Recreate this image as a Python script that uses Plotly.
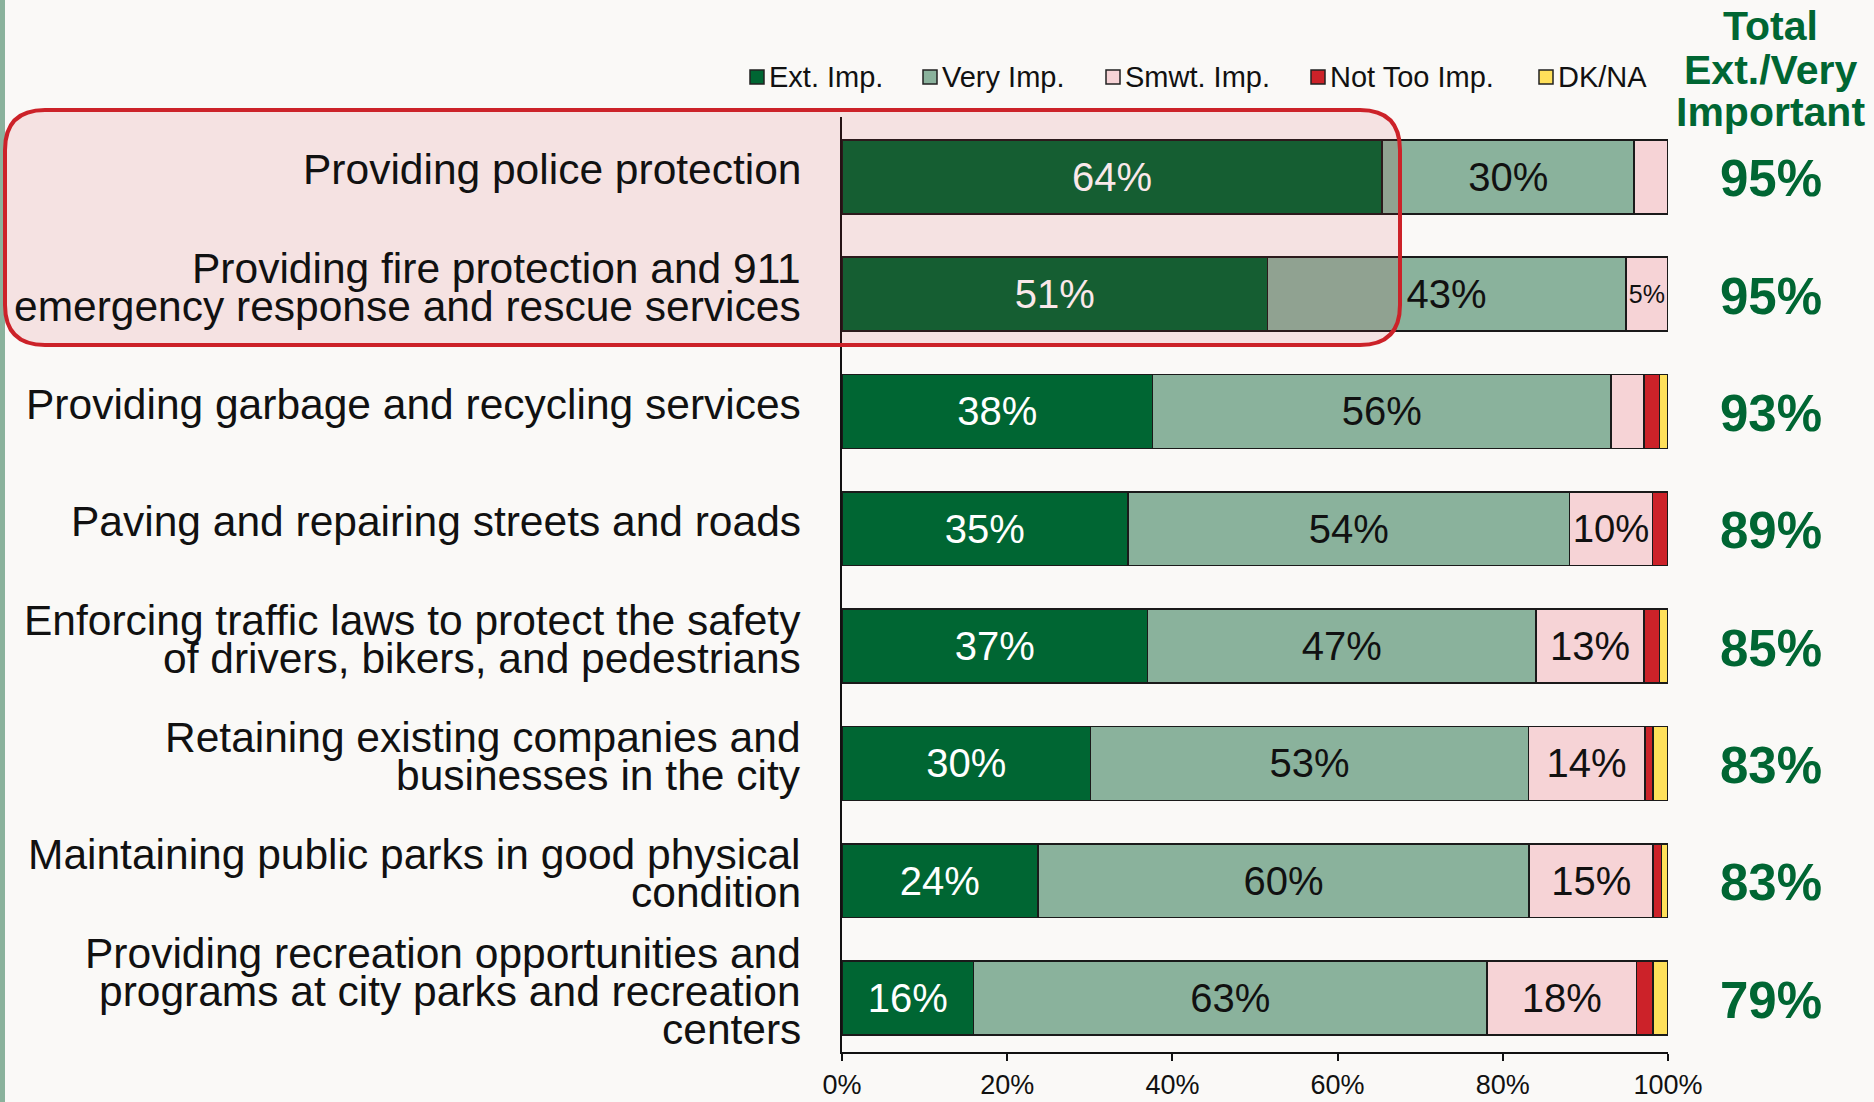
import plotly.graph_objects as go

categories = [
    "Providing police protection",
    "Providing fire protection and 911<br>emergency response and rescue services",
    "Providing garbage and recycling services",
    "Paving and repairing streets and roads",
    "Enforcing traffic laws to protect the safety<br>of drivers, bikers, and pedestrians",
    "Retaining existing companies and<br>businesses in the city",
    "Maintaining public parks in good physical<br>condition",
    "Providing recreation opportunities and<br>programs at city parks and recreation<br>centers",
]
ext_imp = [65.4, 51.5, 37.6, 34.6, 37.0, 30.1, 23.7, 15.9]
very_imp = [30.5, 43.4, 55.5, 53.5, 47.0, 53.0, 59.5, 62.2]
smwt_imp = [4.1, 5.1, 4.0, 10.0, 13.1, 14.1, 15.0, 18.1]
not_too_imp = [0, 0, 1.9, 1.9, 1.9, 1.0, 1.0, 2.0]
dk_na = [0, 0, 1.0, 0, 1.0, 1.8, 0.8, 1.8]

ext_lbl = ["64%", "51%", "38%", "35%", "37%", "30%", "24%", "16%"]
very_lbl = ["30%", "43%", "56%", "54%", "47%", "53%", "60%", "63%"]
smwt_lbl = ["", "5%", "", "10%", "13%", "14%", "15%", "18%"]
totals = ["95%", "95%", "93%", "89%", "85%", "83%", "83%", "79%"]

series_names = ["Ext. Imp.", "Very Imp.", "Smwt. Imp.", "Not Too Imp.", "DK/NA"]
colors = ["#006633", "#8AB29C", "#F6D3D6", "#CC2229", "#FFE05A"]

W, H = 1874, 1102
L, R, T, B = 842, 1668, 117, 1052
PW, PH = R - L, B - T


def px(x):
    return (x - L) / PW


def py(y):
    return (B - y) / PH


FONT = "Liberation Sans, Arial, sans-serif"
NARROW = "Liberation Sans Narrow, Arial Narrow, Liberation Sans, sans-serif"

fig = go.Figure()
vals = [ext_imp, very_imp, smwt_imp, not_too_imp, dk_na]
lbls = [ext_lbl, very_lbl, smwt_lbl, [""] * 8, [""] * 8]
txtcol = ["white", "#111111", "#111111", "#111111", "#111111"]
for name, v, lb, c, tc in zip(series_names, vals, lbls, colors, txtcol):
    fig.add_trace(go.Bar(
        y=categories, x=v, name=name, orientation="h",
        marker=dict(color=c, line=dict(color="#1a1a1a", width=1.5)),
        text=lb, textposition="inside", insidetextanchor="middle", textangle=0,
        textfont=dict(family=FONT, size=40, color=tc),
        showlegend=False, hoverinfo="skip",
    ))

annotations = []
# category labels (multi-line with tight spacing)
for cat in categories:
    lines = cat.split("<br>")
    n = len(lines)
    for j, ln in enumerate(lines):
        annotations.append(dict(
            xref="paper", yref="y", x=px(803), y=cat, text=ln,
            xanchor="right", yanchor="middle", showarrow=False,
            yshift=((n - 1) / 2 - j) * 38 + 7,
            font=dict(family=FONT, size=42.5, color="#111111"),
        ))
# totals
for cat, t in zip(categories, totals):
    annotations.append(dict(
        xref="paper", yref="y", x=px(1771), y=cat, text="<b>%s</b>" % t,
        xanchor="center", yanchor="middle", showarrow=False, yshift=-2,
        font=dict(family=FONT, size=51, color="#006633"),
    ))
# header
for txt, yy in zip(["Total", "Ext./Very", "Important"], [26, 70, 112]):
    annotations.append(dict(
        xref="paper", yref="paper", x=px(1770), y=py(yy), text="<b>%s</b>" % txt,
        xanchor="center", yanchor="middle", showarrow=False,
        font=dict(family=FONT, size=41, color="#006633"),
    ))

shapes = []
# manual legend
leg_sq = [757, 930, 1113, 1318, 1546]
leg_y = 77
for name, c, sx in zip(series_names, colors, leg_sq):
    shapes.append(dict(
        type="rect", xref="paper", yref="paper",
        x0=px(sx - 7), x1=px(sx + 7), y0=py(leg_y + 7), y1=py(leg_y - 7),
        fillcolor=c, line=dict(color="#222222", width=1.5),
    ))
    annotations.append(dict(
        xref="paper", yref="paper", x=px(sx + 10), y=py(leg_y), text=name,
        xanchor="left", yanchor="middle", showarrow=False,
        font=dict(family=NARROW, size=29, color="#111111"),
    ))

# highlight rounded box
bl, br, bt, bb, r = 5, 1400, 110, 345, 40


def P(x, y):
    return "%f,%f" % (px(x), py(y))


path = ("M %s L %s Q %s %s L %s Q %s %s L %s Q %s %s L %s Q %s %s Z" % (
    P(bl + r, bt), P(br - r, bt), P(br, bt), P(br, bt + r), P(br, bb - r),
    P(br, bb), P(br - r, bb), P(bl + r, bb), P(bl, bb), P(bl, bb - r),
    P(bl, bt + r), P(bl, bt), P(bl + r, bt)))
shapes.append(dict(
    type="path", xref="paper", yref="paper", path=path,
    fillcolor="rgba(210,30,45,0.10)", line=dict(color="#CC2229", width=4),
    layer="above",
))
# left strip
shapes.append(dict(
    type="rect", xref="paper", yref="paper",
    x0=px(0), x1=px(5), y0=py(H), y1=py(0),
    fillcolor="#8AB29C", line=dict(width=0), layer="below",
))

fig.update_layout(
    barmode="stack", bargap=0.37,
    width=W, height=H, autosize=False,
    margin=dict(l=L, r=W - R, t=T, b=H - B, pad=0, autoexpand=False),
    paper_bgcolor="#FAF9F7", plot_bgcolor="#FAF9F7",
    showlegend=False,
    annotations=annotations, shapes=shapes,
    xaxis=dict(
        range=[0, 100], tickvals=[0, 20, 40, 60, 80, 100],
        ticktext=["0%", "20%", "40%", "60%", "80%", "100%"],
        ticks="outside", ticklen=7, tickcolor="#111111", tickwidth=1.5,
        showline=True, linecolor="#111111", linewidth=2,
        showgrid=False, zeroline=False, fixedrange=True, automargin=False,
        tickfont=dict(family=NARROW, size=27, color="#111111"),
        ticklabelstandoff=1,
    ),
    yaxis=dict(
        categoryorder="array", categoryarray=categories,
        range=[7.46, -0.51], autorange=False,
        showticklabels=False, ticks="", showline=True, linecolor="#111111",
        linewidth=2, showgrid=False, zeroline=False, fixedrange=True,
        automargin=False,
    ),
    font=dict(family=FONT),
)

fig.write_html(
    "out.html",
    config={"displayModeBar": False},
    post_script="document.body.style.margin='0';document.body.style.overflow='hidden';",
)
